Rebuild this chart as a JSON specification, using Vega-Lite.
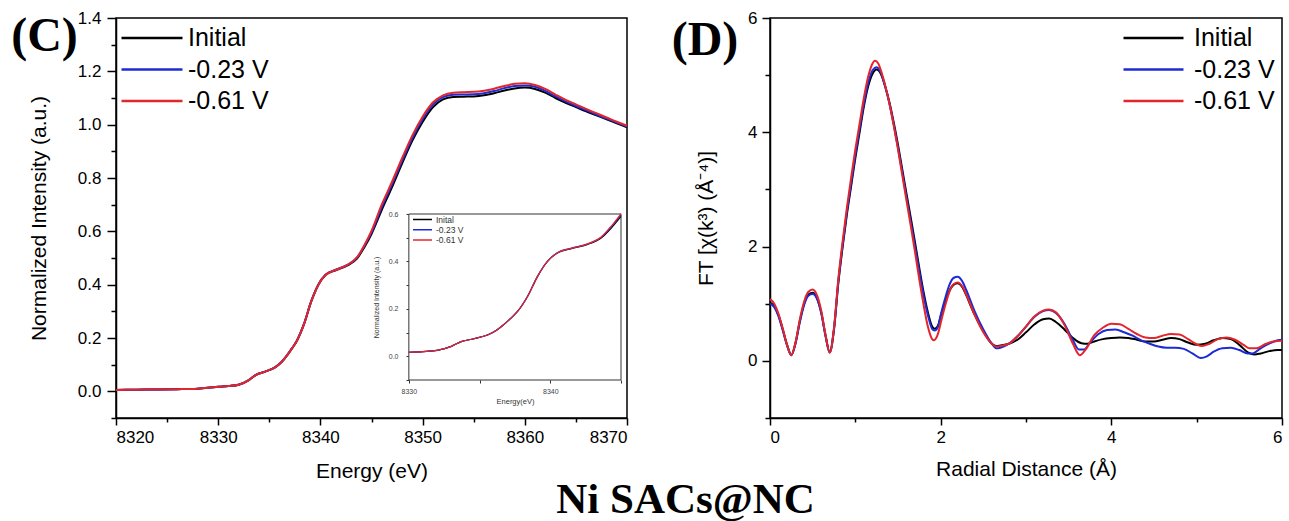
{
"$schema":"https://vega.github.io/schema/vega-lite/v6.json",
"background":"white",
"padding":{"left":10,"top":8,"right":0,"bottom":0},
"config":{
 "view":{"stroke":"black","strokeWidth":1.5},
 "axis":{"grid":false,"domainColor":"black","domainWidth":1.5,"tickColor":"black","tickWidth":1.5,"labelColor":"black","titleColor":"black","labelFont":"Liberation Sans","titleFont":"Liberation Sans","labelFontSize":17,"titleFontSize":21,"titleFontWeight":"normal","labelOverlap":false},
 "legend":{"labelFont":"Liberation Sans"}
},
"datasets":{
"xanes":[
{"series":"Initial","E":8320,"mu":0.005},{"series":"Initial","E":8322,"mu":0.006},{"series":"Initial","E":8324,"mu":0.007},{"series":"Initial","E":8326,"mu":0.008},{"series":"Initial","E":8328,"mu":0.010},{"series":"Initial","E":8329,"mu":0.013},{"series":"Initial","E":8330,"mu":0.017},{"series":"Initial","E":8331,"mu":0.020},{"series":"Initial","E":8332,"mu":0.025},{"series":"Initial","E":8333,"mu":0.042},{"series":"Initial","E":8333.7,"mu":0.062},{"series":"Initial","E":8334.6,"mu":0.074},{"series":"Initial","E":8335.6,"mu":0.091},{"series":"Initial","E":8336.2,"mu":0.110},{"series":"Initial","E":8336.7,"mu":0.133},{"series":"Initial","E":8337.2,"mu":0.160},{"series":"Initial","E":8337.7,"mu":0.190},{"series":"Initial","E":8338.4,"mu":0.253},{"series":"Initial","E":8339.1,"mu":0.337},{"series":"Initial","E":8339.8,"mu":0.400},{"series":"Initial","E":8340.5,"mu":0.436},{"series":"Initial","E":8341.5,"mu":0.454},{"series":"Initial","E":8342.6,"mu":0.471},{"series":"Initial","E":8343.6,"mu":0.499},{"series":"Initial","E":8344.3,"mu":0.540},{"series":"Initial","E":8345,"mu":0.590},
{"series":"Initial","E":8346,"mu":0.680},{"series":"Initial","E":8347,"mu":0.765},{"series":"Initial","E":8348,"mu":0.855},{"series":"Initial","E":8349,"mu":0.940},{"series":"Initial","E":8350,"mu":1.010},{"series":"Initial","E":8351,"mu":1.065},{"series":"Initial","E":8352,"mu":1.095},{"series":"Initial","E":8353,"mu":1.104},{"series":"Initial","E":8354,"mu":1.105},{"series":"Initial","E":8355,"mu":1.106},{"series":"Initial","E":8356,"mu":1.110},{"series":"Initial","E":8357,"mu":1.118},{"series":"Initial","E":8358,"mu":1.128},{"series":"Initial","E":8359,"mu":1.136},{"series":"Initial","E":8360,"mu":1.139},{"series":"Initial","E":8361,"mu":1.134},{"series":"Initial","E":8362,"mu":1.120},{"series":"Initial","E":8363,"mu":1.100},{"series":"Initial","E":8364,"mu":1.082},{"series":"Initial","E":8365,"mu":1.066},{"series":"Initial","E":8366,"mu":1.050},{"series":"Initial","E":8367,"mu":1.035},{"series":"Initial","E":8368,"mu":1.020},{"series":"Initial","E":8369,"mu":1.005},{"series":"Initial","E":8370,"mu":0.990},
{"series":"-0.23 V","E":8320,"mu":0.005},{"series":"-0.23 V","E":8322,"mu":0.006},{"series":"-0.23 V","E":8324,"mu":0.007},{"series":"-0.23 V","E":8326,"mu":0.008},{"series":"-0.23 V","E":8328,"mu":0.010},{"series":"-0.23 V","E":8329,"mu":0.013},{"series":"-0.23 V","E":8330,"mu":0.017},{"series":"-0.23 V","E":8331,"mu":0.020},{"series":"-0.23 V","E":8332,"mu":0.025},{"series":"-0.23 V","E":8333,"mu":0.042},{"series":"-0.23 V","E":8333.7,"mu":0.062},{"series":"-0.23 V","E":8334.6,"mu":0.074},{"series":"-0.23 V","E":8335.6,"mu":0.091},{"series":"-0.23 V","E":8336.2,"mu":0.110},{"series":"-0.23 V","E":8336.7,"mu":0.133},{"series":"-0.23 V","E":8337.2,"mu":0.160},{"series":"-0.23 V","E":8337.7,"mu":0.190},{"series":"-0.23 V","E":8338.4,"mu":0.253},{"series":"-0.23 V","E":8339.1,"mu":0.337},{"series":"-0.23 V","E":8339.8,"mu":0.400},{"series":"-0.23 V","E":8340.5,"mu":0.437},{"series":"-0.23 V","E":8341.5,"mu":0.456},{"series":"-0.23 V","E":8342.6,"mu":0.473},{"series":"-0.23 V","E":8343.6,"mu":0.502},{"series":"-0.23 V","E":8344.3,"mu":0.545},{"series":"-0.23 V","E":8345,"mu":0.596},
{"series":"-0.23 V","E":8346,"mu":0.690},{"series":"-0.23 V","E":8347,"mu":0.775},{"series":"-0.23 V","E":8348,"mu":0.865},{"series":"-0.23 V","E":8349,"mu":0.950},{"series":"-0.23 V","E":8350,"mu":1.020},{"series":"-0.23 V","E":8351,"mu":1.075},{"series":"-0.23 V","E":8352,"mu":1.103},{"series":"-0.23 V","E":8353,"mu":1.112},{"series":"-0.23 V","E":8354,"mu":1.113},{"series":"-0.23 V","E":8355,"mu":1.114},{"series":"-0.23 V","E":8356,"mu":1.118},{"series":"-0.23 V","E":8357,"mu":1.126},{"series":"-0.23 V","E":8358,"mu":1.137},{"series":"-0.23 V","E":8359,"mu":1.145},{"series":"-0.23 V","E":8360,"mu":1.147},{"series":"-0.23 V","E":8361,"mu":1.142},{"series":"-0.23 V","E":8362,"mu":1.127},{"series":"-0.23 V","E":8363,"mu":1.106},{"series":"-0.23 V","E":8364,"mu":1.087},{"series":"-0.23 V","E":8365,"mu":1.070},{"series":"-0.23 V","E":8366,"mu":1.054},{"series":"-0.23 V","E":8367,"mu":1.038},{"series":"-0.23 V","E":8368,"mu":1.023},{"series":"-0.23 V","E":8369,"mu":1.008},{"series":"-0.23 V","E":8370,"mu":0.993},
{"series":"-0.61 V","E":8320,"mu":0.005},{"series":"-0.61 V","E":8322,"mu":0.006},{"series":"-0.61 V","E":8324,"mu":0.007},{"series":"-0.61 V","E":8326,"mu":0.008},{"series":"-0.61 V","E":8328,"mu":0.010},{"series":"-0.61 V","E":8329,"mu":0.013},{"series":"-0.61 V","E":8330,"mu":0.017},{"series":"-0.61 V","E":8331,"mu":0.020},{"series":"-0.61 V","E":8332,"mu":0.025},{"series":"-0.61 V","E":8333,"mu":0.042},{"series":"-0.61 V","E":8333.7,"mu":0.062},{"series":"-0.61 V","E":8334.6,"mu":0.074},{"series":"-0.61 V","E":8335.6,"mu":0.091},{"series":"-0.61 V","E":8336.2,"mu":0.110},{"series":"-0.61 V","E":8336.7,"mu":0.133},{"series":"-0.61 V","E":8337.2,"mu":0.160},{"series":"-0.61 V","E":8337.7,"mu":0.190},{"series":"-0.61 V","E":8338.4,"mu":0.253},{"series":"-0.61 V","E":8339.1,"mu":0.337},{"series":"-0.61 V","E":8339.8,"mu":0.400},{"series":"-0.61 V","E":8340.5,"mu":0.436},{"series":"-0.61 V","E":8341.5,"mu":0.455},{"series":"-0.61 V","E":8342.6,"mu":0.473},{"series":"-0.61 V","E":8343.6,"mu":0.503},{"series":"-0.61 V","E":8344.3,"mu":0.548},{"series":"-0.61 V","E":8345,"mu":0.602},
{"series":"-0.61 V","E":8346,"mu":0.700},{"series":"-0.61 V","E":8347,"mu":0.785},{"series":"-0.61 V","E":8348,"mu":0.875},{"series":"-0.61 V","E":8349,"mu":0.960},{"series":"-0.61 V","E":8350,"mu":1.030},{"series":"-0.61 V","E":8351,"mu":1.083},{"series":"-0.61 V","E":8352,"mu":1.110},{"series":"-0.61 V","E":8353,"mu":1.120},{"series":"-0.61 V","E":8354,"mu":1.122},{"series":"-0.61 V","E":8355,"mu":1.123},{"series":"-0.61 V","E":8356,"mu":1.127},{"series":"-0.61 V","E":8357,"mu":1.135},{"series":"-0.61 V","E":8358,"mu":1.145},{"series":"-0.61 V","E":8359,"mu":1.153},{"series":"-0.61 V","E":8360,"mu":1.155},{"series":"-0.61 V","E":8361,"mu":1.149},{"series":"-0.61 V","E":8362,"mu":1.134},{"series":"-0.61 V","E":8363,"mu":1.113},{"series":"-0.61 V","E":8364,"mu":1.093},{"series":"-0.61 V","E":8365,"mu":1.076},{"series":"-0.61 V","E":8366,"mu":1.059},{"series":"-0.61 V","E":8367,"mu":1.043},{"series":"-0.61 V","E":8368,"mu":1.027},{"series":"-0.61 V","E":8369,"mu":1.011},{"series":"-0.61 V","E":8370,"mu":0.996}
],
"exafs":[
{"series":"Initial","R":0,"FT":1.02},{"series":"Initial","R":0.05,"FT":0.96},{"series":"Initial","R":0.1,"FT":0.8},{"series":"Initial","R":0.15,"FT":0.55},{"series":"Initial","R":0.2,"FT":0.28},{"series":"Initial","R":0.25,"FT":0.1},{"series":"Initial","R":0.3,"FT":0.32},{"series":"Initial","R":0.35,"FT":0.7},{"series":"Initial","R":0.4,"FT":1.0},{"series":"Initial","R":0.45,"FT":1.16},{"series":"Initial","R":0.5,"FT":1.19},{"series":"Initial","R":0.55,"FT":1.1},{"series":"Initial","R":0.6,"FT":0.85},{"series":"Initial","R":0.65,"FT":0.45},{"series":"Initial","R":0.7,"FT":0.15},{"series":"Initial","R":0.75,"FT":0.55},{"series":"Initial","R":0.8,"FT":1.35},{"series":"Initial","R":0.85,"FT":1.98},{"series":"Initial","R":0.9,"FT":2.55},{"series":"Initial","R":0.95,"FT":3.05},{"series":"Initial","R":1.0,"FT":3.55},{"series":"Initial","R":1.05,"FT":4.0},{"series":"Initial","R":1.1,"FT":4.45},{"series":"Initial","R":1.15,"FT":4.8},{"series":"Initial","R":1.2,"FT":5.02},{"series":"Initial","R":1.25,"FT":5.1},{"series":"Initial","R":1.3,"FT":5.02},{"series":"Initial","R":1.35,"FT":4.8},{"series":"Initial","R":1.4,"FT":4.52},{"series":"Initial","R":1.45,"FT":4.17},{"series":"Initial","R":1.5,"FT":3.78},{"series":"Initial","R":1.55,"FT":3.35},{"series":"Initial","R":1.6,"FT":2.92},{"series":"Initial","R":1.65,"FT":2.5},{"series":"Initial","R":1.7,"FT":2.07},{"series":"Initial","R":1.75,"FT":1.62},{"series":"Initial","R":1.8,"FT":1.2},{"series":"Initial","R":1.85,"FT":0.85},{"series":"Initial","R":1.9,"FT":0.6},{"series":"Initial","R":1.93,"FT":0.56},{"series":"Initial","R":1.97,"FT":0.62},{"series":"Initial","R":2.0,"FT":0.78},{"series":"Initial","R":2.05,"FT":1.02},{"series":"Initial","R":2.1,"FT":1.22},{"series":"Initial","R":2.15,"FT":1.33},{"series":"Initial","R":2.2,"FT":1.36},{"series":"Initial","R":2.25,"FT":1.3},{"series":"Initial","R":2.3,"FT":1.15},{"series":"Initial","R":2.35,"FT":0.97},{"series":"Initial","R":2.4,"FT":0.8},{"series":"Initial","R":2.5,"FT":0.52},{"series":"Initial","R":2.6,"FT":0.3},{"series":"Initial","R":2.65,"FT":0.26},{"series":"Initial","R":2.7,"FT":0.27},{"series":"Initial","R":2.8,"FT":0.3},{"series":"Initial","R":2.9,"FT":0.37},{"series":"Initial","R":3.0,"FT":0.5},{"series":"Initial","R":3.1,"FT":0.64},{"series":"Initial","R":3.2,"FT":0.73},{"series":"Initial","R":3.27,"FT":0.74},{"series":"Initial","R":3.35,"FT":0.68},{"series":"Initial","R":3.45,"FT":0.55},{"series":"Initial","R":3.55,"FT":0.4},{"series":"Initial","R":3.65,"FT":0.31},{"series":"Initial","R":3.72,"FT":0.3},{"series":"Initial","R":3.8,"FT":0.34},{"series":"Initial","R":3.9,"FT":0.38},{"series":"Initial","R":4.0,"FT":0.4},{"series":"Initial","R":4.1,"FT":0.41},{"series":"Initial","R":4.2,"FT":0.4},{"series":"Initial","R":4.3,"FT":0.37},{"series":"Initial","R":4.4,"FT":0.34},{"series":"Initial","R":4.5,"FT":0.34},{"series":"Initial","R":4.6,"FT":0.37},{"series":"Initial","R":4.7,"FT":0.4},{"series":"Initial","R":4.8,"FT":0.38},{"series":"Initial","R":4.9,"FT":0.32},{"series":"Initial","R":5.0,"FT":0.28},{"series":"Initial","R":5.1,"FT":0.3},{"series":"Initial","R":5.2,"FT":0.36},{"series":"Initial","R":5.3,"FT":0.4},{"series":"Initial","R":5.4,"FT":0.38},{"series":"Initial","R":5.5,"FT":0.28},{"series":"Initial","R":5.6,"FT":0.15},{"series":"Initial","R":5.68,"FT":0.11},{"series":"Initial","R":5.75,"FT":0.13},{"series":"Initial","R":5.85,"FT":0.17},{"series":"Initial","R":5.95,"FT":0.19},{"series":"Initial","R":6.0,"FT":0.19},
{"series":"-0.23 V","R":0,"FT":1.0},{"series":"-0.23 V","R":0.05,"FT":0.94},{"series":"-0.23 V","R":0.1,"FT":0.78},{"series":"-0.23 V","R":0.15,"FT":0.53},{"series":"-0.23 V","R":0.2,"FT":0.27},{"series":"-0.23 V","R":0.25,"FT":0.1},{"series":"-0.23 V","R":0.3,"FT":0.31},{"series":"-0.23 V","R":0.35,"FT":0.68},{"series":"-0.23 V","R":0.4,"FT":0.98},{"series":"-0.23 V","R":0.45,"FT":1.14},{"series":"-0.23 V","R":0.5,"FT":1.17},{"series":"-0.23 V","R":0.55,"FT":1.09},{"series":"-0.23 V","R":0.6,"FT":0.84},{"series":"-0.23 V","R":0.65,"FT":0.44},{"series":"-0.23 V","R":0.7,"FT":0.15},{"series":"-0.23 V","R":0.75,"FT":0.56},{"series":"-0.23 V","R":0.8,"FT":1.38},{"series":"-0.23 V","R":0.85,"FT":2.02},{"series":"-0.23 V","R":0.9,"FT":2.6},{"series":"-0.23 V","R":0.95,"FT":3.1},{"series":"-0.23 V","R":1.0,"FT":3.6},{"series":"-0.23 V","R":1.05,"FT":4.06},{"series":"-0.23 V","R":1.1,"FT":4.5},{"series":"-0.23 V","R":1.15,"FT":4.86},{"series":"-0.23 V","R":1.2,"FT":5.08},{"series":"-0.23 V","R":1.25,"FT":5.14},{"series":"-0.23 V","R":1.3,"FT":5.04},{"series":"-0.23 V","R":1.35,"FT":4.8},{"series":"-0.23 V","R":1.4,"FT":4.5},{"series":"-0.23 V","R":1.45,"FT":4.13},{"series":"-0.23 V","R":1.5,"FT":3.73},{"series":"-0.23 V","R":1.55,"FT":3.3},{"series":"-0.23 V","R":1.6,"FT":2.86},{"series":"-0.23 V","R":1.65,"FT":2.43},{"series":"-0.23 V","R":1.7,"FT":2.0},{"series":"-0.23 V","R":1.75,"FT":1.56},{"series":"-0.23 V","R":1.8,"FT":1.14},{"series":"-0.23 V","R":1.85,"FT":0.8},{"series":"-0.23 V","R":1.9,"FT":0.56},{"series":"-0.23 V","R":1.93,"FT":0.53},{"series":"-0.23 V","R":1.97,"FT":0.6},{"series":"-0.23 V","R":2.0,"FT":0.8},{"series":"-0.23 V","R":2.05,"FT":1.08},{"series":"-0.23 V","R":2.1,"FT":1.32},{"series":"-0.23 V","R":2.15,"FT":1.45},{"series":"-0.23 V","R":2.2,"FT":1.47},{"series":"-0.23 V","R":2.25,"FT":1.4},{"series":"-0.23 V","R":2.3,"FT":1.24},{"series":"-0.23 V","R":2.35,"FT":1.05},{"series":"-0.23 V","R":2.4,"FT":0.86},{"series":"-0.23 V","R":2.5,"FT":0.55},{"series":"-0.23 V","R":2.6,"FT":0.3},{"series":"-0.23 V","R":2.65,"FT":0.22},{"series":"-0.23 V","R":2.7,"FT":0.23},{"series":"-0.23 V","R":2.8,"FT":0.3},{"series":"-0.23 V","R":2.9,"FT":0.43},{"series":"-0.23 V","R":3.0,"FT":0.6},{"series":"-0.23 V","R":3.1,"FT":0.77},{"series":"-0.23 V","R":3.2,"FT":0.87},{"series":"-0.23 V","R":3.27,"FT":0.89},{"series":"-0.23 V","R":3.35,"FT":0.84},{"series":"-0.23 V","R":3.45,"FT":0.65},{"series":"-0.23 V","R":3.55,"FT":0.36},{"series":"-0.23 V","R":3.62,"FT":0.2},{"series":"-0.23 V","R":3.68,"FT":0.2},{"series":"-0.23 V","R":3.75,"FT":0.32},{"series":"-0.23 V","R":3.85,"FT":0.47},{"series":"-0.23 V","R":3.95,"FT":0.54},{"series":"-0.23 V","R":4.05,"FT":0.55},{"series":"-0.23 V","R":4.15,"FT":0.5},{"series":"-0.23 V","R":4.25,"FT":0.44},{"series":"-0.23 V","R":4.35,"FT":0.36},{"series":"-0.23 V","R":4.45,"FT":0.3},{"series":"-0.23 V","R":4.55,"FT":0.25},{"series":"-0.23 V","R":4.65,"FT":0.23},{"series":"-0.23 V","R":4.75,"FT":0.23},{"series":"-0.23 V","R":4.85,"FT":0.21},{"series":"-0.23 V","R":4.95,"FT":0.13},{"series":"-0.23 V","R":5.05,"FT":0.05},{"series":"-0.23 V","R":5.12,"FT":0.08},{"series":"-0.23 V","R":5.2,"FT":0.16},{"series":"-0.23 V","R":5.3,"FT":0.22},{"series":"-0.23 V","R":5.4,"FT":0.23},{"series":"-0.23 V","R":5.5,"FT":0.19},{"series":"-0.23 V","R":5.6,"FT":0.13},{"series":"-0.23 V","R":5.65,"FT":0.13},{"series":"-0.23 V","R":5.75,"FT":0.22},{"series":"-0.23 V","R":5.85,"FT":0.3},{"series":"-0.23 V","R":5.95,"FT":0.36},{"series":"-0.23 V","R":6.0,"FT":0.37},
{"series":"-0.61 V","R":0,"FT":1.08},{"series":"-0.61 V","R":0.05,"FT":1.0},{"series":"-0.61 V","R":0.1,"FT":0.82},{"series":"-0.61 V","R":0.15,"FT":0.56},{"series":"-0.61 V","R":0.2,"FT":0.28},{"series":"-0.61 V","R":0.25,"FT":0.1},{"series":"-0.61 V","R":0.3,"FT":0.33},{"series":"-0.61 V","R":0.35,"FT":0.73},{"series":"-0.61 V","R":0.4,"FT":1.04},{"series":"-0.61 V","R":0.45,"FT":1.21},{"series":"-0.61 V","R":0.5,"FT":1.25},{"series":"-0.61 V","R":0.55,"FT":1.15},{"series":"-0.61 V","R":0.6,"FT":0.88},{"series":"-0.61 V","R":0.65,"FT":0.46},{"series":"-0.61 V","R":0.7,"FT":0.14},{"series":"-0.61 V","R":0.75,"FT":0.58},{"series":"-0.61 V","R":0.8,"FT":1.42},{"series":"-0.61 V","R":0.85,"FT":2.08},{"series":"-0.61 V","R":0.9,"FT":2.67},{"series":"-0.61 V","R":0.95,"FT":3.2},{"series":"-0.61 V","R":1.0,"FT":3.7},{"series":"-0.61 V","R":1.05,"FT":4.15},{"series":"-0.61 V","R":1.1,"FT":4.6},{"series":"-0.61 V","R":1.15,"FT":4.97},{"series":"-0.61 V","R":1.2,"FT":5.2},{"series":"-0.61 V","R":1.23,"FT":5.25},{"series":"-0.61 V","R":1.27,"FT":5.2},{"series":"-0.61 V","R":1.3,"FT":5.08},{"series":"-0.61 V","R":1.35,"FT":4.82},{"series":"-0.61 V","R":1.4,"FT":4.5},{"series":"-0.61 V","R":1.45,"FT":4.12},{"series":"-0.61 V","R":1.5,"FT":3.7},{"series":"-0.61 V","R":1.55,"FT":3.25},{"series":"-0.61 V","R":1.6,"FT":2.8},{"series":"-0.61 V","R":1.65,"FT":2.36},{"series":"-0.61 V","R":1.7,"FT":1.9},{"series":"-0.61 V","R":1.75,"FT":1.42},{"series":"-0.61 V","R":1.8,"FT":0.98},{"series":"-0.61 V","R":1.85,"FT":0.6},{"series":"-0.61 V","R":1.9,"FT":0.38},{"series":"-0.61 V","R":1.92,"FT":0.36},{"series":"-0.61 V","R":1.97,"FT":0.48},{"series":"-0.61 V","R":2.0,"FT":0.66},{"series":"-0.61 V","R":2.05,"FT":0.95},{"series":"-0.61 V","R":2.1,"FT":1.2},{"series":"-0.61 V","R":2.15,"FT":1.34},{"series":"-0.61 V","R":2.2,"FT":1.37},{"series":"-0.61 V","R":2.25,"FT":1.31},{"series":"-0.61 V","R":2.3,"FT":1.16},{"series":"-0.61 V","R":2.35,"FT":0.98},{"series":"-0.61 V","R":2.4,"FT":0.8},{"series":"-0.61 V","R":2.5,"FT":0.5},{"series":"-0.61 V","R":2.6,"FT":0.3},{"series":"-0.61 V","R":2.65,"FT":0.25},{"series":"-0.61 V","R":2.7,"FT":0.26},{"series":"-0.61 V","R":2.8,"FT":0.3},{"series":"-0.61 V","R":2.9,"FT":0.43},{"series":"-0.61 V","R":3.0,"FT":0.6},{"series":"-0.61 V","R":3.1,"FT":0.78},{"series":"-0.61 V","R":3.2,"FT":0.88},{"series":"-0.61 V","R":3.27,"FT":0.9},{"series":"-0.61 V","R":3.35,"FT":0.85},{"series":"-0.61 V","R":3.45,"FT":0.63},{"series":"-0.61 V","R":3.55,"FT":0.3},{"series":"-0.61 V","R":3.63,"FT":0.1},{"series":"-0.61 V","R":3.7,"FT":0.2},{"series":"-0.61 V","R":3.8,"FT":0.45},{"series":"-0.61 V","R":3.9,"FT":0.58},{"series":"-0.61 V","R":4.0,"FT":0.65},{"series":"-0.61 V","R":4.1,"FT":0.64},{"series":"-0.61 V","R":4.2,"FT":0.56},{"series":"-0.61 V","R":4.3,"FT":0.47},{"series":"-0.61 V","R":4.4,"FT":0.41},{"series":"-0.61 V","R":4.5,"FT":0.4},{"series":"-0.61 V","R":4.6,"FT":0.44},{"series":"-0.61 V","R":4.7,"FT":0.47},{"series":"-0.61 V","R":4.8,"FT":0.46},{"series":"-0.61 V","R":4.9,"FT":0.38},{"series":"-0.61 V","R":5.0,"FT":0.29},{"series":"-0.61 V","R":5.06,"FT":0.26},{"series":"-0.61 V","R":5.15,"FT":0.3},{"series":"-0.61 V","R":5.25,"FT":0.38},{"series":"-0.61 V","R":5.35,"FT":0.41},{"series":"-0.61 V","R":5.45,"FT":0.37},{"series":"-0.61 V","R":5.55,"FT":0.28},{"series":"-0.61 V","R":5.62,"FT":0.22},{"series":"-0.61 V","R":5.7,"FT":0.22},{"series":"-0.61 V","R":5.8,"FT":0.29},{"series":"-0.61 V","R":5.9,"FT":0.34},{"series":"-0.61 V","R":6.0,"FT":0.35}
]
},
"title":{"text":"Ni SACs@NC","orient":"bottom","anchor":"middle","font":"Liberation Serif","fontSize":43,"fontWeight":"bold","color":"black","offset":-3,"dx":37},
"spacing":38,
"resolve":{"scale":{"color":"independent"},"legend":{"color":"independent"}},
"hconcat":[
{
 "width":511,"height":400,
 "resolve":{"scale":{"x":"independent","y":"independent","color":"independent"}},
 "layer":[
  {"data":{"name":"xanes"},
   "mark":{"type":"line","interpolate":"monotone","strokeWidth":2},
   "encoding":{
    "x":{"field":"E","type":"quantitative","scale":{"domain":[8320,8370],"nice":false,"zero":false},
     "axis":{"orient":"bottom","title":"Energy (eV)","values":[8320,8330,8340,8350,8360,8370],"format":"d","tickSize":7,"labelPadding":4,"titlePadding":15}},
    "y":{"field":"mu","type":"quantitative","scale":{"domain":[-0.1,1.4],"nice":false,"zero":false},
     "axis":{"orient":"left","title":"Normalized Intensity (a.u.)","values":[0,0.2,0.4,0.6,0.8,1,1.2,1.4],"format":".1f","tickSize":9,"labelPadding":6,"titlePadding":28}},
    "color":{"field":"series","type":"nominal","scale":{"domain":["Initial","-0.23 V","-0.61 V"],"range":["#000000","#1c2bd6","#e3262b"]},
     "legend":{"orient":"none","legendX":4,"legendY":7.5,"title":null,"symbolType":"stroke","symbolSize":3721,"symbolStrokeWidth":2.5,"labelFontSize":25,"labelColor":"black","labelOffset":4,"clipHeight":25,"rowPadding":5.5,"padding":0}}
   }},
  {"data":{"values":[{"label":"(C)"}]},
   "mark":{"type":"text","font":"Liberation Serif","fontWeight":"bold","fontSize":48,"align":"center","baseline":"alphabetic","color":"black"},
   "encoding":{
    "x":{"datum":8313,"type":"quantitative","scale":{"domain":[8320,8370],"nice":false,"zero":false},
     "axis":{"orient":"bottom","values":[8325,8335,8345,8355,8365],"labels":false,"domain":false,"title":null,"tickSize":4}},
    "y":{"datum":1.276,"type":"quantitative","scale":{"domain":[-0.1,1.4],"nice":false,"zero":false},
     "axis":{"orient":"left","values":[-0.1,0.1,0.3,0.5,0.7,0.9,1.1,1.3],"labels":false,"domain":false,"title":null,"tickSize":5}},
    "text":{"field":"label"}}},
  {"layer":[
   {"data":{"values":[{"label":"inset"}]},
    "mark":{"type":"rect","fill":"white","stroke":"#333333","strokeWidth":1},
    "encoding":{"x":{"datum":8330,"type":"quantitative"},"x2":{"datum":8345},"y":{"datum":-0.1,"type":"quantitative"},"y2":{"datum":0.6}}},
   {"data":{"name":"xanes"},
    "transform":[{"filter":{"field":"E","range":[8330,8345]}}],
    "mark":{"type":"line","interpolate":"monotone","strokeWidth":1.2},
    "encoding":{
     "x":{"field":"E","type":"quantitative","scale":{"domain":[8309.295,8345.424],"nice":false,"zero":false},
      "axis":{"orient":"bottom","offset":-38,"domain":false,"title":"Energy(eV)","titleX":399,"values":[8330,8335,8340,8345],"format":"d","labelExpr":"datum.value % 10 === 0 ? datum.label : ''","tickSize":3,"tickWidth":1,"tickColor":"#333333","labelFontSize":7,"labelColor":"#444444","labelPadding":4,"titleFontSize":7.5,"titleColor":"#333333","titlePadding":3}},
     "y":{"field":"mu","type":"quantitative","scale":{"domain":[-0.26024,1.42652],"nice":false,"zero":false},
      "axis":{"orient":"left","offset":-293,"domain":false,"title":"Normalized Intensity (a.u.)","titleY":279,"values":[-0.1,0,0.1,0.2,0.3,0.4,0.5,0.6],"format":".1f","labelExpr":"abs(round(datum.value*10)) % 2 === 0 ? datum.label : ''","tickSize":3,"tickWidth":1,"tickColor":"#333333","labelFontSize":7,"labelColor":"#444444","labelPadding":8,"titleFontSize":7,"titleColor":"#333333","titlePadding":9}},
     "color":{"field":"series","type":"nominal","scale":{"domain":["Initial","-0.23 V","-0.61 V"],"range":["#000000","#1c2bd6","#e3262b"]},
      "legend":{"orient":"none","legendX":296,"legendY":197,"title":null,"symbolType":"stroke","symbolSize":361,"symbolStrokeWidth":1.5,"labelFontSize":8.5,"labelColor":"#333333","labelOffset":3,"clipHeight":9,"rowPadding":1.3,"padding":0,"labelExpr":"datum.label === 'Initial' ? 'Inital' : datum.label"}}
    }}
  ]}
 ]
},
{
 "width":512,"height":400,
 "layer":[
  {"data":{"name":"exafs"},
   "mark":{"type":"line","interpolate":"monotone","strokeWidth":2},
   "encoding":{
    "x":{"field":"R","type":"quantitative","scale":{"domain":[0,6],"nice":false,"zero":false},
     "axis":{"title":"Radial Distance (Å)","values":[0,1,2,3,4,5,6],"format":"d","labelExpr":"datum.value % 2 === 0 ? datum.label : ''","tickSize":{"condition":{"test":"datum.value % 2 === 0","value":7},"value":4},"labelPadding":4,"titlePadding":13}},
    "y":{"field":"FT","type":"quantitative","scale":{"domain":[-1,6],"nice":false,"zero":false},
     "axis":{"title":"FT [χ(k³) (Å⁻⁴)]","values":[-1,0,1,2,3,4,5,6],"format":"d","labelExpr":"abs(datum.value) % 2 === 0 ? datum.label : ''","tickSize":{"condition":{"test":"abs(datum.value) % 2 === 0","value":8},"value":5},"labelPadding":5,"titlePadding":31}},
    "color":{"field":"series","type":"nominal","scale":{"domain":["Initial","-0.23 V","-0.61 V"],"range":["#000000","#1c2bd6","#e3262b"]},
     "legend":{"orient":"none","legendX":352,"legendY":7.5,"title":null,"symbolType":"stroke","symbolSize":3600,"symbolStrokeWidth":2.5,"labelFontSize":25,"labelColor":"black","labelOffset":9,"clipHeight":25,"rowPadding":5.5,"padding":0}}
   }},
  {"data":{"values":[{"label":"(D)"}]},
   "mark":{"type":"text","font":"Liberation Serif","fontWeight":"bold","fontSize":48,"align":"center","baseline":"alphabetic","color":"black"},
   "encoding":{"x":{"datum":-0.762,"type":"quantitative"},"y":{"datum":5.357,"type":"quantitative"},"text":{"field":"label"}}}
 ]
}
]
}
